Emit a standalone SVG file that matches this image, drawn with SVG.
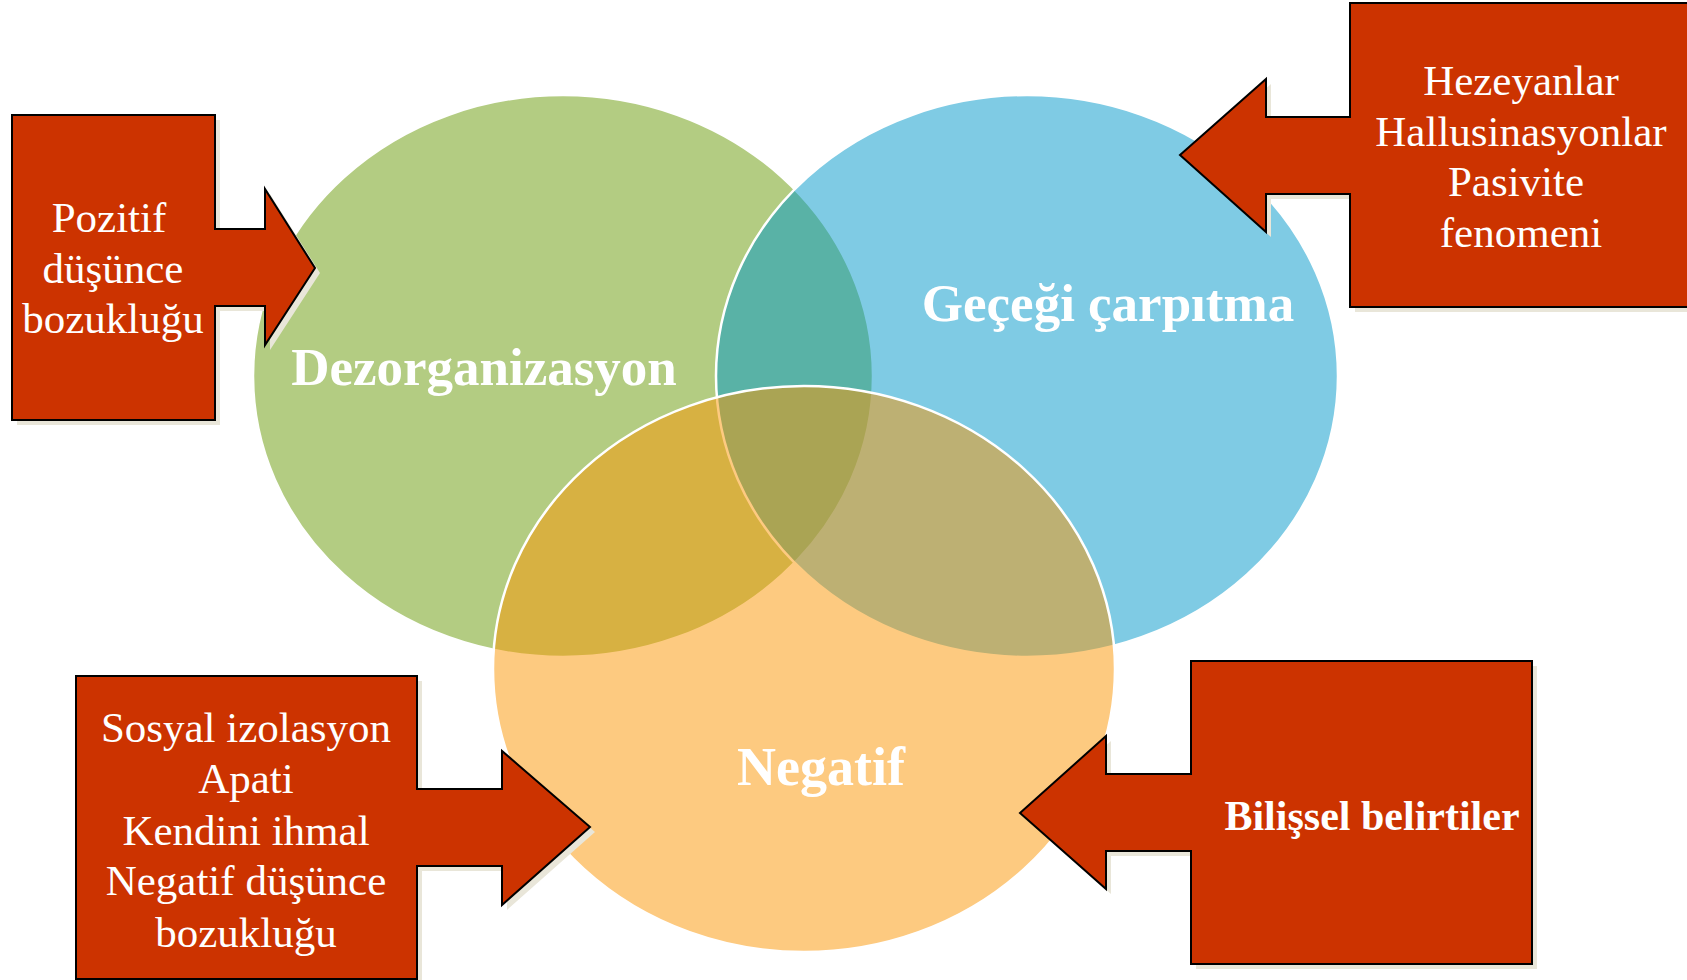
<svg xmlns="http://www.w3.org/2000/svg" width="1687" height="980" viewBox="0 0 1687 980">
<style>
.ell{stroke:#ffffff;stroke-width:2.5;fill-opacity:0.5}
.shape{fill:#CC3300;stroke:#000000;stroke-width:2;stroke-linejoin:miter}
.shadow{fill:#E9E6D9}
.t{font-family:"Liberation Serif","Times New Roman",serif;fill:#ffffff;text-anchor:middle}
.r{font-size:43px}
.b{font-weight:bold}
</style>
<rect x="0" y="0" width="1687" height="980" fill="#ffffff"/>
<g id="venn">
  <g id="dezorganizasyon">
    <ellipse class="ell" cx="563" cy="376" rx="310" ry="281" fill="#679905"/>
  </g>
  <g id="gercegi">
    <ellipse class="ell" cx="1027" cy="376" rx="311" ry="281" fill="#0097C9"/>
  </g>
  <g id="negatif">
    <ellipse class="ell" cx="804" cy="669" rx="311" ry="283" fill="#FB9501"/>
  </g>
  <text class="t b" x="484" y="385" font-size="53">Dezorganizasyon</text>
  <text class="t b" x="1108" y="321" font-size="53">Geçeği çarpıtma</text>
  <text class="t b" x="821" y="785" font-size="54">Negatif</text>
</g>
<g id="connectors">
  <g id="box-pozitif">
    <polygon class="shadow" transform="translate(5,5)" points="12,115 215,115 215,229 265,229 265,189 315,268 265,345 265,306 215,306 215,420 12,420"/>
    <polygon class="shape" points="12,115 215,115 215,229 265,229 265,189 315,268 265,345 265,306 215,306 215,420 12,420"/>
    <text class="t r" x="109" y="232">Pozitif</text>
    <text class="t r" x="113" y="283">düşünce</text>
    <text class="t r" x="113" y="333">bozukluğu</text>
  </g>
  <g id="box-hezeyan">
    <polygon class="shadow" transform="translate(5,5)" points="1350,3 1700,3 1700,307 1350,307 1350,194 1266,194 1266,232 1180,155 1266,79 1266,117 1350,117"/>
    <polygon class="shape" points="1350,3 1700,3 1700,307 1350,307 1350,194 1266,194 1266,232 1180,155 1266,79 1266,117 1350,117"/>
    <text class="t r" x="1521" y="95">Hezeyanlar</text>
    <text class="t r" x="1521" y="146">Hallusinasyonlar</text>
    <text class="t r" x="1516" y="196">Pasivite</text>
    <text class="t r" x="1521" y="247">fenomeni</text>
  </g>
  <g id="box-sosyal">
    <polygon class="shadow" transform="translate(5,5)" points="76,676 417,676 417,789 502,789 502,751 590,827 502,905 502,866 417,866 417,979 76,979"/>
    <polygon class="shape" points="76,676 417,676 417,789 502,789 502,751 590,827 502,905 502,866 417,866 417,979 76,979"/>
    <text class="t r" x="246" y="742">Sosyal izolasyon</text>
    <text class="t r" x="246" y="793">Apati</text>
    <text class="t r" x="246" y="845">Kendini ihmal</text>
    <text class="t r" x="246" y="895">Negatif düşünce</text>
    <text class="t r" x="246" y="947">bozukluğu</text>
  </g>
  <g id="box-bilissel">
    <polygon class="shadow" transform="translate(5,5)" points="1191,661 1532,661 1532,964 1191,964 1191,851 1106,851 1106,889 1020,813 1106,736 1106,774 1191,774"/>
    <polygon class="shape" points="1191,661 1532,661 1532,964 1191,964 1191,851 1106,851 1106,889 1020,813 1106,736 1106,774 1191,774"/>
    <text class="t b" x="1372" y="830" font-size="42">Bilişsel belirtiler</text>
  </g>
</g>
</svg>
